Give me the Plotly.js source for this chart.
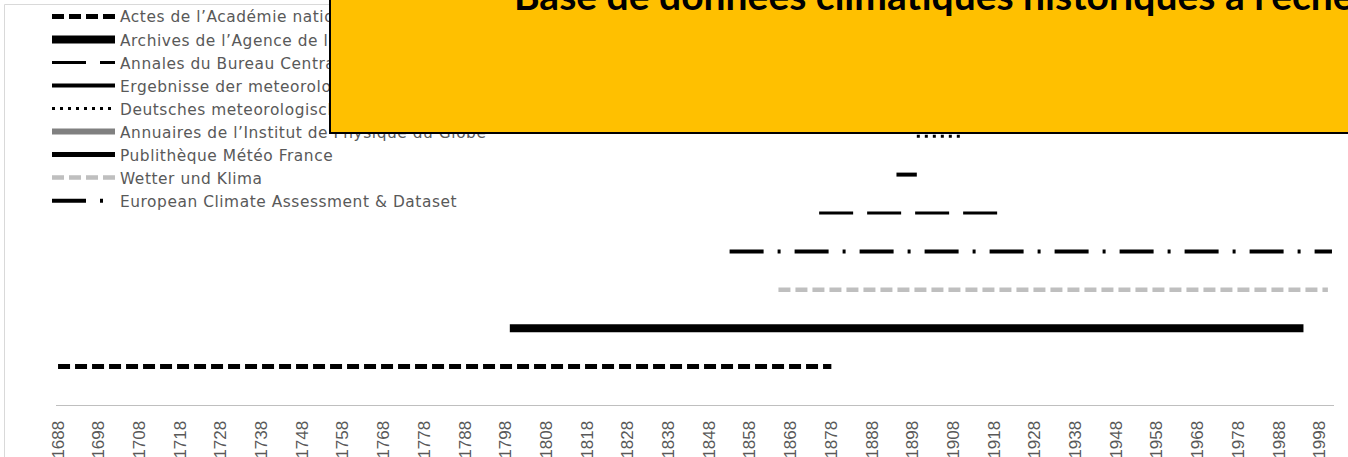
<!DOCTYPE html>
<html>
<head>
<meta charset="utf-8">
<script src="https://cdn.plot.ly/plotly-3.0.1.min.js"></script>
<style>
  html, body { margin: 0; padding: 0; background: #ffffff; }
  #chart { width: 1348px; height: 457px; }
  /* slightly looser legend lettering */
  #chart .legendtext { letter-spacing: 0.55px; }
</style>
</head>
<body>
<div id="chart"></div>
<script>
// Sources of historical climate records and the years each one covers
const sourceNames = [
  'Actes de l’Académie nationale des sciences, belles-lettres et arts',
  'Archives de l’Agence de l’eau',
  'Annales du Bureau Central Météorologique de France',
  'Ergebnisse der meteorologischen Beobachtungen',
  'Deutsches meteorologisches Jahrbuch',
  'Annuaires de l’Institut de Physique du Globe',
  'Publithèque Météo France',
  'Wetter und Klima',
  'European Climate Assessment & Dataset'
];
const startYears = [1688, 1799, 1875, 1894, 1899, 1919, 1930, 1865, 1853];
const endYears   = [1878, 1994, 1920, 1899, 1910, 1960, 1995, 2000, 2001];
// row on which each source's coverage bar is drawn
const rowLevels  = [1, 2, 5, 6, 7, 8, 9, 3, 4];

const tickYears = [1688, 1698, 1708, 1718, 1728, 1738, 1748, 1758, 1768, 1778,
  1788, 1798, 1808, 1818, 1828, 1838, 1848, 1858, 1868, 1878, 1888, 1898,
  1908, 1918, 1928, 1938, 1948, 1958, 1968, 1978, 1988, 1998];

const chartTitle = 'Base de données climatiques historiques à l’échelle';

// line style for each source
const lineStyles = [
  { color: '#000000', width: 5,   dash: '12px,5px' },
  { color: '#000000', width: 8,   dash: 'solid' },
  { color: '#000000', width: 3,   dash: '34px,14px' },
  { color: '#000000', width: 4,   dash: 'solid' },
  { color: '#000000', width: 3,   dash: '3px,5px' },
  { color: '#808080', width: 6,   dash: 'solid' },
  { color: '#000000', width: 5,   dash: 'solid' },
  { color: '#bfbfbf', width: 4.5, dash: '12px,5px' },
  { color: '#000000', width: 4,   dash: '34px,14px,3px,14px' }
];

const traces = sourceNames.map((name, i) => ({
  type: 'scatter',
  mode: 'lines',
  name: name,
  x: [startYears[i], endYears[i]],
  y: [rowLevels[i], rowLevels[i]],
  line: lineStyles[i],
  hoverinfo: 'name'
}));

// white core of the double line used for the Publithèque source
const pubIndex = 6;
traces.push({
  type: 'scatter',
  mode: 'lines',
  x: [startYears[pubIndex], endYears[pubIndex]],
  y: [rowLevels[pubIndex], rowLevels[pubIndex]],
  line: { color: '#ffffff', width: 1.5 },
  showlegend: false,
  hoverinfo: 'skip'
});

const layout = {
  width: 1348,
  height: 457,
  margin: { l: 56, r: 14, t: 21, b: 52, autoexpand: false },
  paper_bgcolor: '#ffffff',
  plot_bgcolor: '#ffffff',
  showlegend: true,
  legend: {
    x: -0.00704, xanchor: 'left',
    y: 1.0548, yanchor: 'top',
    bgcolor: 'rgba(0,0,0,0)',
    borderwidth: 0,
    itemwidth: 63,
    traceorder: 'normal',
    font: { family: 'DejaVu Sans', size: 15.4, color: '#595959' }
  },
  xaxis: {
    range: [1687.5, 2001.5],
    tickmode: 'array',
    tickvals: tickYears,
    ticktext: tickYears.map(String),
    tickangle: -90,
    ticks: '',
    ticklabelstandoff: 8,
    tickfont: { family: 'Liberation Sans', size: 17, color: '#595959' },
    showline: true,
    linecolor: '#bfbfbf',
    linewidth: 1,
    showgrid: false,
    zeroline: false,
    fixedrange: true
  },
  yaxis: {
    range: [0, 10],
    visible: false,
    showgrid: false,
    zeroline: false,
    fixedrange: true
  },
  shapes: [
    // outer chart frame
    {
      type: 'rect', xref: 'paper', yref: 'paper',
      x0: -0.0403, x1: 1.05, y0: -0.3, y1: 1.043,
      line: { color: '#d9d9d9', width: 1 },
      fillcolor: 'rgba(0,0,0,0)'
    }
  ],
  annotations: [
    // yellow title panel
    {
      xref: 'paper', yref: 'paper',
      x: 0.2136, xanchor: 'left',
      y: 0.7057, yanchor: 'bottom',
      text: ' ',
      showarrow: false,
      width: 1100, height: 200,
      bgcolor: '#FFC000',
      bordercolor: '#000000',
      borderwidth: 2,
      borderpad: 0
    },
    {
      xref: 'paper', yref: 'paper',
      x: 0.3568, xanchor: 'left',
      y: 1.003, yanchor: 'bottom',
      text: chartTitle,
      showarrow: false,
      align: 'left',
      font: { family: 'Lato', size: 39, weight: 700, color: '#000000' }
    }
  ]
};

Plotly.newPlot('chart', traces, layout, { displayModeBar: false, staticPlot: true });
</script>
</body>
</html>
